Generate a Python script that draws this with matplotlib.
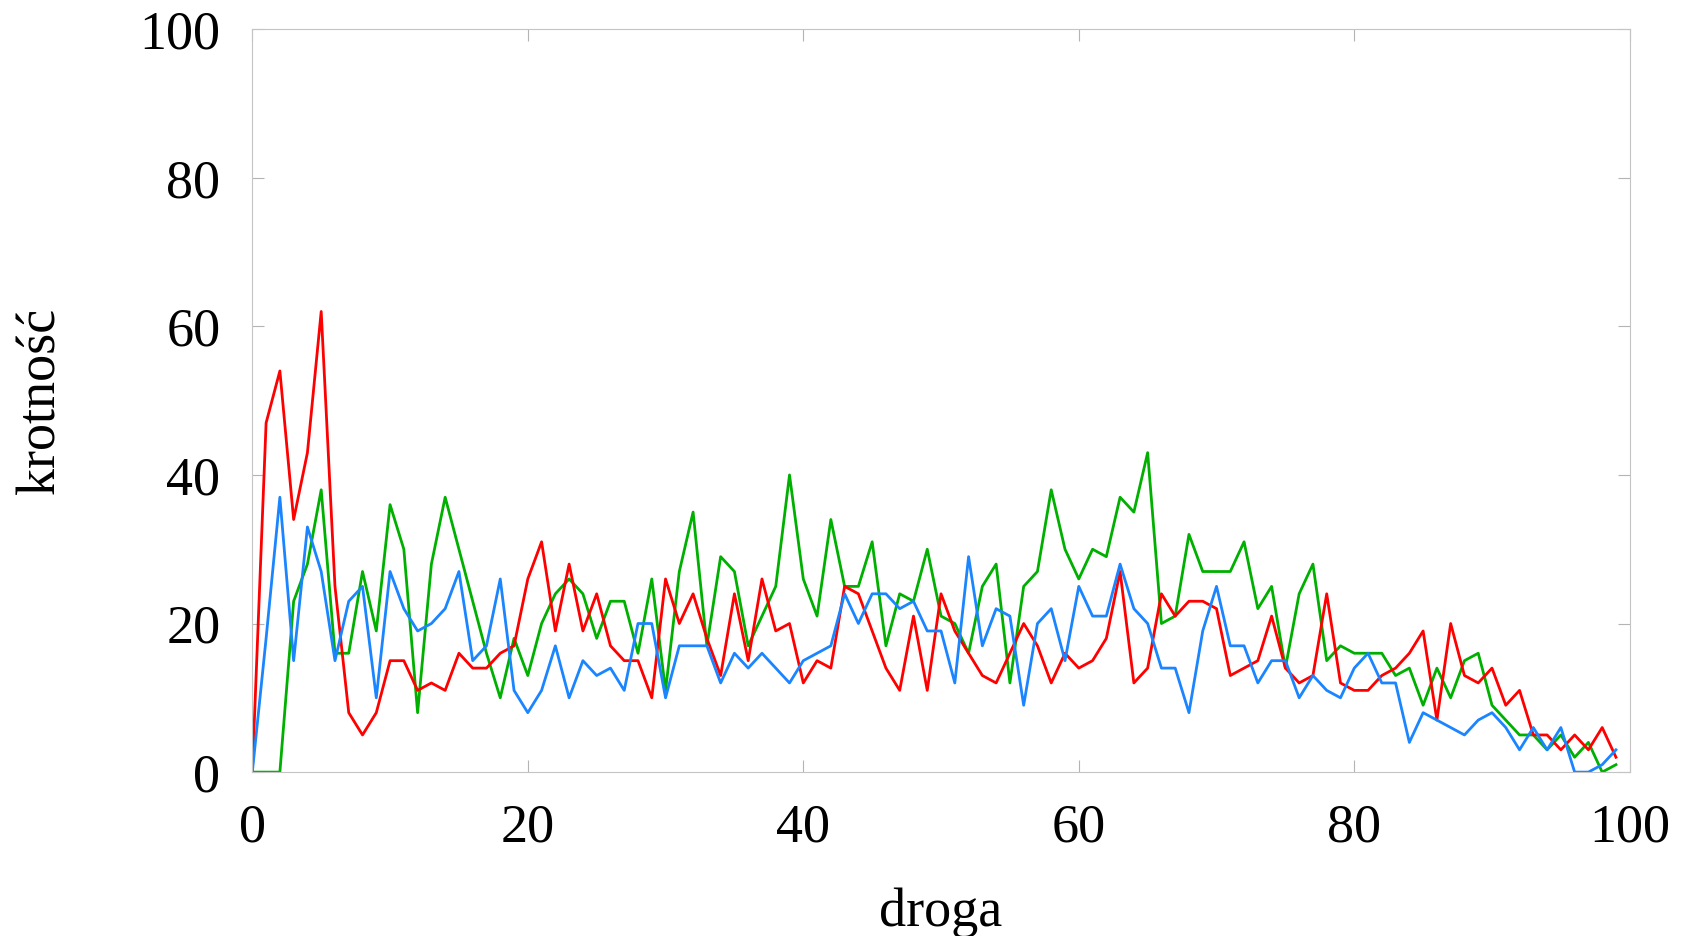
import matplotlib
matplotlib.use('Agg')
import numpy
import matplotlib.pyplot as plt

# krotnosc dla kolejnych wartosci drogi (0..99), trzy przebiegi
droga = list(range(100))

red_vals = [0, 47, 54, 34, 43, 62, 25, 8, 5, 8,
            15, 15, 11, 12, 11, 16, 14, 14, 16, 17,
            26, 31, 19, 28, 19, 24, 17, 15, 15, 10,
            26, 20, 24, 18, 13, 24, 15, 26, 19, 20,
            12, 15, 14, 25, 24, 19, 14, 11, 21, 11,
            24, 19, 16, 13, 12, 16, 20, 17, 12, 16,
            14, 15, 18, 27, 12, 14, 24, 21, 23, 23,
            22, 13, 14, 15, 21, 14, 12, 13, 24, 12,
            11, 11, 13, 14, 16, 19, 7, 20, 13, 12,
            14, 9, 11, 5, 5, 3, 5, 3, 6, 2]

green_vals = [0, 0, 0, 23, 28, 38, 16, 16, 27, 19,
              36, 30, 8, 28, 37, 30, 23, 16, 10, 18,
              13, 20, 24, 26, 24, 18, 23, 23, 16, 26,
              11, 27, 35, 17, 29, 27, 17, 21, 25, 40,
              26, 21, 34, 25, 25, 31, 17, 24, 23, 30,
              21, 20, 16, 25, 28, 12, 25, 27, 38, 30,
              26, 30, 29, 37, 35, 43, 20, 21, 32, 27,
              27, 27, 31, 22, 25, 14, 24, 28, 15, 17,
              16, 16, 16, 13, 14, 9, 14, 10, 15, 16,
              9, 7, 5, 5, 3, 5, 2, 4, 0, 1]

blue_vals = [0, 18, 37, 15, 33, 27, 15, 23, 25, 10,
             27, 22, 19, 20, 22, 27, 15, 17, 26, 11,
             8, 11, 17, 10, 15, 13, 14, 11, 20, 20,
             10, 17, 17, 17, 12, 16, 14, 16, 14, 12,
             15, 16, 17, 24, 20, 24, 24, 22, 23, 19,
             19, 12, 29, 17, 22, 21, 9, 20, 22, 15,
             25, 21, 21, 28, 22, 20, 14, 14, 8, 19,
             25, 17, 17, 12, 15, 15, 10, 13, 11, 10,
             14, 16, 12, 12, 4, 8, 7, 6, 5, 7,
             8, 6, 3, 6, 3, 6, 0, 0, 1, 3]

ticks = [0, 20, 40, 60, 80, 100]

plt.rcParams['font.family'] = ['Liberation Serif', 'DejaVu Serif']
plt.rcParams['font.size'] = 39

fig = plt.figure(figsize=(16.98, 9.36), dpi=100)
ax = fig.add_axes([0.1486, 0.1751, 0.8112, 0.7937])

lw = 2.0
ax.plot(droga, green_vals, color='#00b000', lw=lw)
ax.plot(droga, red_vals, color='#ff0000', lw=lw)
ax.plot(droga, blue_vals, color='#1a85ff', lw=lw)

ax.set_xlim(0, 100)
ax.set_ylim(0, 100)
ax.set_xticks(ticks)
ax.set_yticks(ticks)

for s in ax.spines.values():
    s.set_color('#c4c4c4')
    s.set_linewidth(0.8)
ax.tick_params(direction='in', length=8.5, width=0.8, color='#b4b4b4',
               top=True, right=True, labelsize=39)
ax.tick_params(axis='y', pad=23)
ax.tick_params(axis='x', pad=22)

ax.set_xlabel('droga', fontsize=39)
ax.set_ylabel('krotność', fontsize=39)
ax.xaxis.set_label_coords(0.5, -0.155)
ax.yaxis.set_label_coords(-0.135, 0.5)

plt.savefig('out.png', dpi=100)
